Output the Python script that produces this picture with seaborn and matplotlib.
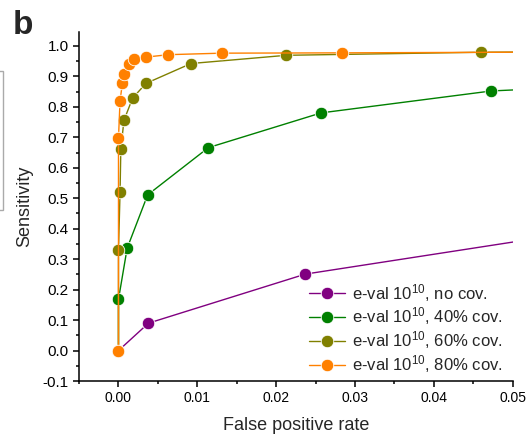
import numpy as np
import pandas as pd
import seaborn as sns
import matplotlib.pyplot as plt
from matplotlib.patches import Rectangle
from matplotlib.ticker import MultipleLocator, FormatStrFormatter

# ROC-like curves (last point of each lies past the x limit)
series_names = ["e-val $10^{10}$, no cov.", "e-val $10^{10}$, 40% cov.",
                "e-val $10^{10}$, 60% cov.", "e-val $10^{10}$, 80% cov."]

fpr_nocov = [0.0, 0.0038, 0.0237, 0.07]
sens_nocov = [0.0, 0.09, 0.251, 0.436]

fpr_40 = [0.0, 0.0, 0.0011, 0.0037, 0.0114, 0.0257, 0.0473, 0.07]
sens_40 = [0.0, 0.168, 0.336, 0.511, 0.666, 0.78, 0.852, 0.879]

fpr_60 = [0.0, 0.0, 0.0002, 0.0003, 0.0007, 0.0018, 0.0035, 0.0092, 0.0213, 0.046, 0.07]
sens_60 = [0.0, 0.33, 0.52, 0.663, 0.756, 0.829, 0.877, 0.942, 0.969, 0.979, 0.982]

fpr_80 = [0.0, 0.0, 0.0002, 0.0005, 0.0007, 0.0013, 0.002, 0.0035, 0.0063, 0.0131, 0.0283, 0.07]
sens_80 = [0.0, 0.697, 0.82, 0.878, 0.907, 0.939, 0.956, 0.963, 0.971, 0.976, 0.977, 0.981]

colors = ["#800080", "#008000", "#808000", "#FF8000"]

frames = []
for name, xs, ys in zip(series_names,
                        [fpr_nocov, fpr_40, fpr_60, fpr_80],
                        [sens_nocov, sens_40, sens_60, sens_80]):
    frames.append(pd.DataFrame({"fpr": xs, "sens": ys, "series": name}))
df = pd.concat(frames, ignore_index=True)

sns.set_style("ticks")
plt.rcParams["font.family"] = ["Liberation Sans", "DejaVu Sans"]
plt.rcParams["mathtext.fontset"] = "custom"
plt.rcParams["mathtext.rm"] = "Liberation Sans"
plt.rcParams["mathtext.it"] = "Liberation Sans:italic"

fig = plt.figure(figsize=(5.27, 4.36), dpi=100)
ax = fig.add_axes([0.150, 0.126, 0.823, 0.801])

sns.lineplot(data=df, x="fpr", y="sens", hue="series", palette=colors,
             hue_order=series_names, sort=False, estimator=None,
             marker="o", markersize=9, markeredgecolor="white",
             markeredgewidth=0.6, linewidth=1.0, ax=ax, legend=False)

# legend handles built by hand so markers sit on the line like the original
handles = [plt.Line2D([], [], color=c, marker="o", markersize=9,
                      markeredgecolor="white", markeredgewidth=0.6, linewidth=1.0)
           for c in colors]
ax.legend(handles, series_names, loc="lower right", frameon=False,
          fontsize=12, handlelength=2.2, handletextpad=0.4, labelspacing=0.12,
          bbox_to_anchor=(1.0, -0.012), borderaxespad=0.2)

ax.set_xlim(-0.005, 0.05)
ax.set_ylim(-0.1, 1.046)
ax.xaxis.set_major_locator(MultipleLocator(0.01))
ax.xaxis.set_minor_locator(MultipleLocator(0.005))
ax.xaxis.set_major_formatter(FormatStrFormatter("%.2f"))
ax.yaxis.set_major_locator(MultipleLocator(0.1))
ax.yaxis.set_minor_locator(MultipleLocator(0.05))
ax.yaxis.set_major_formatter(FormatStrFormatter("%.1f"))
ax.set_yticks(np.arange(-0.1, 1.01, 0.1))

ax.tick_params(which="major", direction="out", length=4.5, width=1.1,
               color="black", labelcolor="black", pad=3)
ax.tick_params(which="minor", direction="out", length=2.5, width=1.1, color="black")
ax.tick_params(axis="x", labelsize=10)
ax.tick_params(axis="y", labelsize=11)
for side in ["left", "bottom"]:
    ax.spines[side].set_linewidth(1.1)
    ax.spines[side].set_color("black")
sns.despine(ax=ax)

ax.set_xlabel("False positive rate", fontsize=13, labelpad=8)
ax.set_ylabel("Sensitivity", fontsize=13, labelpad=7)

fig.text(0.024, 0.922, "b", fontsize=24, fontweight="bold")

# edge of a neighbouring panel's box, cut off at the left border
fig.patches.append(Rectangle((-0.02, 1 - 210 / 436), 0.026, (210 - 71) / 436,
                             transform=fig.transFigure, fill=False,
                             edgecolor="#aaaaaa", linewidth=1.0))

fig.savefig("out.png", dpi=100)
